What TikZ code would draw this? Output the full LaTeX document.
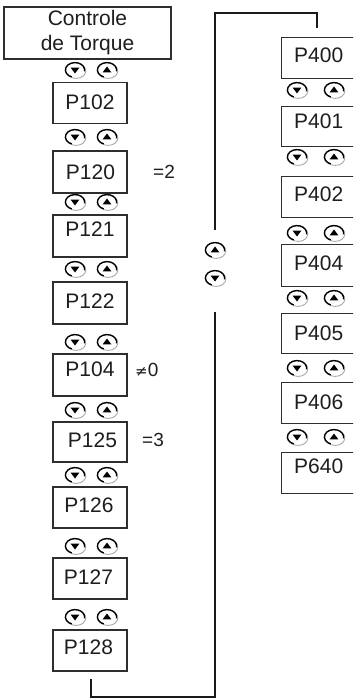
\documentclass[tikz,border=0pt]{standalone}
\usepackage{fontspec}
\setmainfont{Liberation Sans}
\newfontfamily\dejavu{DejaVu Sans}
\definecolor{boxc}{HTML}{2E2E2E}
\definecolor{txtc}{HTML}{1E1E1E}
\definecolor{linec}{HTML}{1A1A1A}
\definecolor{shadc}{HTML}{A8A8A8}
\tikzset{
  pbox/.style={draw=boxc, line width=1.3pt, minimum width=74pt, inner sep=0pt},
  rbox/.style={draw=boxc, line width=1.3pt, minimum width=110pt, inner sep=0pt, anchor=north west},
  ptxt/.style={font=\fontsize{21}{25}\selectfont, text=txtc, inner sep=0pt},
  stxt/.style={font=\fontsize{19}{23}\selectfont, text=txtc, inner sep=0pt, anchor=west},
  conn/.style={draw=linec, line width=2.1pt},
  btnup/.pic={
    \draw[shadc, line width=0.9pt] (1.2,1) ellipse [x radius=9.6, y radius=7.4];
    \fill[white] (0,0) ellipse [x radius=9.6, y radius=7.4];
    \draw[black, line width=1.4pt] (110:9.6 and 7.4) arc [start angle=110, end angle=370, x radius=9.6, y radius=7.4];
    \fill[black] (0,-3.5) -- (-4.4,2.4) -- (4.4,2.4) -- cycle;
  },
  btndn/.pic={
    \draw[shadc, line width=0.9pt] (1.2,1) ellipse [x radius=9.6, y radius=7.4];
    \fill[white] (0,0) ellipse [x radius=9.6, y radius=7.4];
    \draw[black, line width=1.4pt] (110:9.6 and 7.4) arc [start angle=110, end angle=370, x radius=9.6, y radius=7.4];
    \fill[black] (0,3.5) -- (-4.4,-2.4) -- (4.4,-2.4) -- cycle;
  }
}
\begin{document}
\begin{tikzpicture}[x=1pt,y=-1pt]
\useasboundingbox[fill=white] (0,0) rectangle (353,700);

% title box
\node[draw=boxc, line width=1.3pt, minimum width=167pt, minimum height=52pt, inner sep=0pt,
      align=center, font=\fontsize{21}{25}\selectfont, text=txtc] (ctl) at (87.5,33) {Controle\\de Torque};

% left column boxes
\node[pbox, minimum height=41pt] (b102) at (90,103) {};
\node[pbox, minimum height=42pt] (b120) at (90,172) {};
\node[pbox, minimum height=42pt] (b121) at (90,236) {};
\node[pbox, minimum height=42pt] (b122) at (90,303) {};
\node[pbox, minimum height=42pt] (b104) at (90,375) {};
\node[pbox, minimum height=40pt] (b125) at (90,442) {};
\node[pbox, minimum height=41pt] (b126) at (90,507.5) {};
\node[pbox, minimum height=41pt] (b127) at (90,578.5) {};
\node[pbox, minimum height=41pt] (b128) at (90,650.5) {};

\node[ptxt] (t102) at (90,102.5) {P102};
\node[ptxt] (t120) at (90.5,172) {P120};
\node[ptxt] (t121) at (90,229.5) {P121};
\node[ptxt] (t122) at (90,301.5) {P122};
\node[ptxt] (t104) at (90,369.5) {P104};
\node[ptxt] (t125) at (92.5,440) {P125};
\node[ptxt] (t126) at (89,505.5) {P126};
\node[ptxt] (t127) at (88.5,577) {P127};
\node[ptxt] (t128) at (88.5,647.5) {P128};

% conditions
\node[stxt] (c120) at (153,172) {=2};
\node[stxt] (c104) at (135,369.5) {{\dejavu\fontsize{15}{18}\selectfont ≠}0};
\node[stxt] (c125) at (142,440) {=3};

% left buttons
\foreach \yy in {70,137,202,269,342,410,475,546,617}{
  \pic at (75,\yy) {btndn};
  \pic at (107,\yy) {btnup};
}

% right column boxes (cut by the right edge)
\begin{scope}
\clip (0,0) rectangle (353,700);
\node[rbox, minimum height=41pt] (b400) at (281,37) {};
\node[rbox, minimum height=40pt] (b401) at (281,106) {};
\node[rbox, minimum height=41pt] (b402) at (281,176) {};
\node[rbox, minimum height=42pt] (b404) at (281,244) {};
\node[rbox, minimum height=40pt] (b405) at (281,313) {};
\node[rbox, minimum height=41pt] (b406) at (281,382) {};
\node[rbox, minimum height=41pt] (b640) at (281,452) {};
\end{scope}

\node[ptxt, anchor=west] (t400) at (294,55) {P400};
\node[ptxt, anchor=west] (t401) at (294,121) {P401};
\node[ptxt, anchor=west] (t402) at (294,194) {P402};
\node[ptxt, anchor=west] (t404) at (294,263.5) {P404};
\node[ptxt, anchor=west] (t405) at (294,333) {P405};
\node[ptxt, anchor=west] (t406) at (294,402.5) {P406};
\node[ptxt, anchor=west] (t640) at (294,466.5) {P640};

\foreach \yy in {90,157,233,298,368,437}{
  \pic at (297,\yy) {btndn};
  \pic at (334,\yy) {btnup};
}

% middle buttons
\pic at (215,250) {btnup};
\pic at (215,278) {btndn};

% connectors
\coordinate (ga) at (215,230);
\coordinate (tl) at (215,13);
\coordinate (tr) at (317,13);
\coordinate (te) at (317,28);
\coordinate (gb) at (215,312);
\coordinate (brc) at (215,697);
\coordinate (blc) at (91,697);
\coordinate (be) at (91,679);
\draw[conn] (ga) -- (tl) -- (tr) -- (te);
\draw[conn] (gb) -- (brc) -- (blc) -- (be);
\end{tikzpicture}
\end{document}
